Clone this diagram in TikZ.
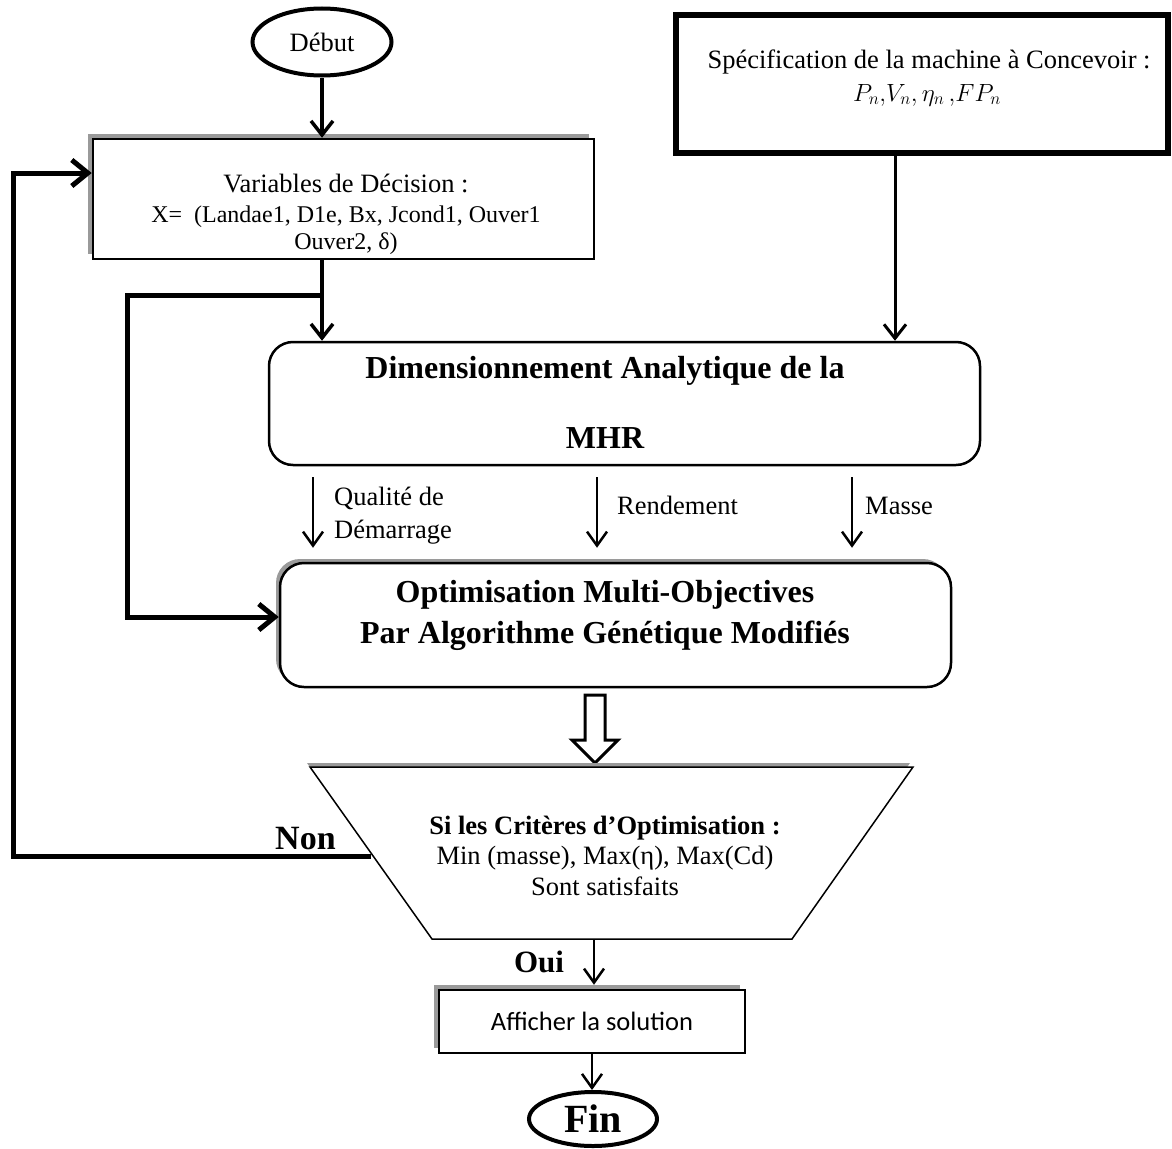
\documentclass[tikz,border=0pt]{standalone}
\usepackage{fontspec}
\setmainfont{Liberation Serif}
\newfontfamily\calibfont{Carlito}
\usetikzlibrary{arrows.meta,shapes.geometric,shadows,calc}
\definecolor{shadowc}{HTML}{9A9A9A}
\tikzset{
  txt/.style={inner sep=0pt, font=\fontsize{26.5}{32}\selectfont},
  txtsm/.style={inner sep=0pt, font=\fontsize{24}{29}\selectfont},
  btxt/.style={inner sep=0pt, font=\fontsize{32}{38}\selectfont\bfseries},
  bmid/.style={inner sep=0pt, font=\fontsize{26.5}{32}\selectfont\bfseries},
  sh5/.style={general shadow={fill=shadowc, shadow xshift=-5pt, shadow yshift=5pt}},
  sh4/.style={general shadow={fill=shadowc, shadow xshift=-4pt, shadow yshift=4pt}},
  plainbox/.style={rectangle, draw, fill=white, line width=2.5pt},
  roundbox/.style={rectangle, rounded corners=24pt, draw, fill=white, line width=2.5pt},
  ovalbox/.style={ellipse, draw, fill=white, line width=4pt, inner sep=0pt},
  arrA/.style={line width=3.5pt, -{Straight Barb[length=14pt,width=22pt]}},
  arrB/.style={line width=3pt, -{Straight Barb[length=14pt,width=22pt]}},
  arrC/.style={line width=2.5pt, -{Straight Barb[length=14pt,width=20pt]}},
  arrT/.style={line width=5pt, -{Straight Barb[length=16pt,width=26pt]}},
}
\begin{document}
\begin{tikzpicture}[x=1pt,y=-1pt,line join=miter]
\useasboundingbox (0,0) rectangle (1172,1148);

% Debut
\node[ovalbox, minimum width=139pt, minimum height=67pt, txt] (debut) at (322,42) {Début};

% Variables de decision
\node[plainbox, sh5, minimum width=501pt, minimum height=120pt] (vars) at (343.5,199) {};
\node[txt, anchor=base] (v1) at (346,192) {Variables de Décision :};
\node[txtsm, anchor=base] (v2) at (346,222) {X=\ \ (Landae1, D1e, Bx, Jcond1, Ouver1};
\node[txtsm, anchor=base] (v3) at (346,249) {Ouver2, δ)};

% Specification
\node[rectangle, draw, line width=6pt, minimum width=492pt, minimum height=138pt] (spec) at (922,84) {};
\node[txt, anchor=base] (s1) at (929,68) {Spécification de la machine à Concevoir :};
\node[anchor=base, inner sep=0pt, font=\fontsize{25}{30}\selectfont] (s2) at (927,101) {$P_n{,}V_n{,}\,\eta_n\,{,}FP_n$};

% Dimensionnement
\node[roundbox, minimum width=711pt, minimum height=123pt] (dim) at (624.5,403.5) {};
\node[btxt, anchor=base] (d1) at (605,378) {Dimensionnement Analytique de la};
\node[btxt, anchor=base] (d2) at (605,448) {MHR};

% Optimisation
\node[roundbox, sh4, minimum width=671pt, minimum height=124pt] (opt) at (615.5,625) {};
\node[btxt, anchor=base] (o1) at (605,602) {Optimisation Multi-Objectives};
\node[btxt, anchor=base] (o2) at (605,643) {Par Algorithme Génétique Modifiés};

% labels between boxes
\node[txt, anchor=base west] (lq1) at (334,505) {Qualité de};
\node[txt, anchor=base west] (lq2) at (334,538) {Démarrage};
\node[txt, anchor=base west] (lr) at (617,514) {Rendement};
\node[txt, anchor=base west] (lm) at (865,514) {Masse};

% hollow arrow
\draw[line width=3pt, fill=white] (585,695) -- (605,695) -- (605,740) -- (618,740) -- (595,763) -- (572,740) -- (585,740) -- cycle;

% decision trapezoid
\fill[shadowc] (307,763) -- (910,763) -- (789,935) -- (429,935) -- cycle;
\draw[line width=1.5pt, fill=white] (310,767) -- (913,767) -- (792,939) -- (432,939) -- cycle;
\node[bmid, anchor=base] (c1) at (605,834) {Si les Critères d’Optimisation :};
\node[txt, anchor=base] (c2) at (605,864) {Min (masse), Max(η), Max(Cd)};
\node[txt, anchor=base] (c3) at (605,895) {Sont satisfaits};
\coordinate (trapL) at (371,856);
\coordinate (trapB) at (594,939);

% Non / Oui
\node[inner sep=0pt, font=\fontsize{34}{40}\selectfont\bfseries, anchor=base west] (non) at (275,849) {Non};
\node[inner sep=0pt, font=\fontsize{31}{37}\selectfont\bfseries, anchor=base] (oui) at (539,972) {Oui};

% Afficher
\node[plainbox, sh5, minimum width=306pt, minimum height=63pt, font=\calibfont\fontsize{26.5}{32}\selectfont] (aff) at (592,1021.5) {Afficher la solution};

% Fin
\node[ovalbox, minimum width=128pt, minimum height=54pt, font=\fontsize{40}{48}\selectfont\bfseries] (fin) at (593,1119) {Fin};

% connectors
\coordinate (j1) at (322,295);
\coordinate (loop2) at (127,295);
\coordinate (loopL) at (13,856);
\coordinate (sp) at ($(spec.south)+(-27,0)$);
\coordinate (xq) at (313,0);
\coordinate (xr) at (597,0);
\coordinate (xm) at (852,0);

\draw[arrA] (debut.south) -- (debut.south |- vars.north);
\draw[line width=3.5pt] (debut.south |- vars.south) -- (j1);
\draw[arrA] (j1) -- (j1 |- dim.north);
\draw[arrT] (j1) -- (loop2) |- ($(opt.west)+(0,-8)$);
\draw[arrT] (trapL) -- (loopL) |- ($(vars.west)+(0,-26)$);
\draw[arrB] (sp) -- (sp |- dim.north);
\draw[arrC] ($(dim.south -| xq)+(0,11)$) -- ($(opt.north -| xq)+(0,-14)$);
\draw[arrC] ($(dim.south -| xr)+(0,11)$) -- ($(opt.north -| xr)+(0,-14)$);
\draw[arrC] ($(dim.south -| xm)+(0,11)$) -- ($(opt.north -| xm)+(0,-14)$);
\draw[arrC] (trapB) -- ($(trapB |- aff.north)+(0,-4)$);
\draw[arrC] (aff.south) -- (aff.south |- fin.north);
\end{tikzpicture}
\end{document}
